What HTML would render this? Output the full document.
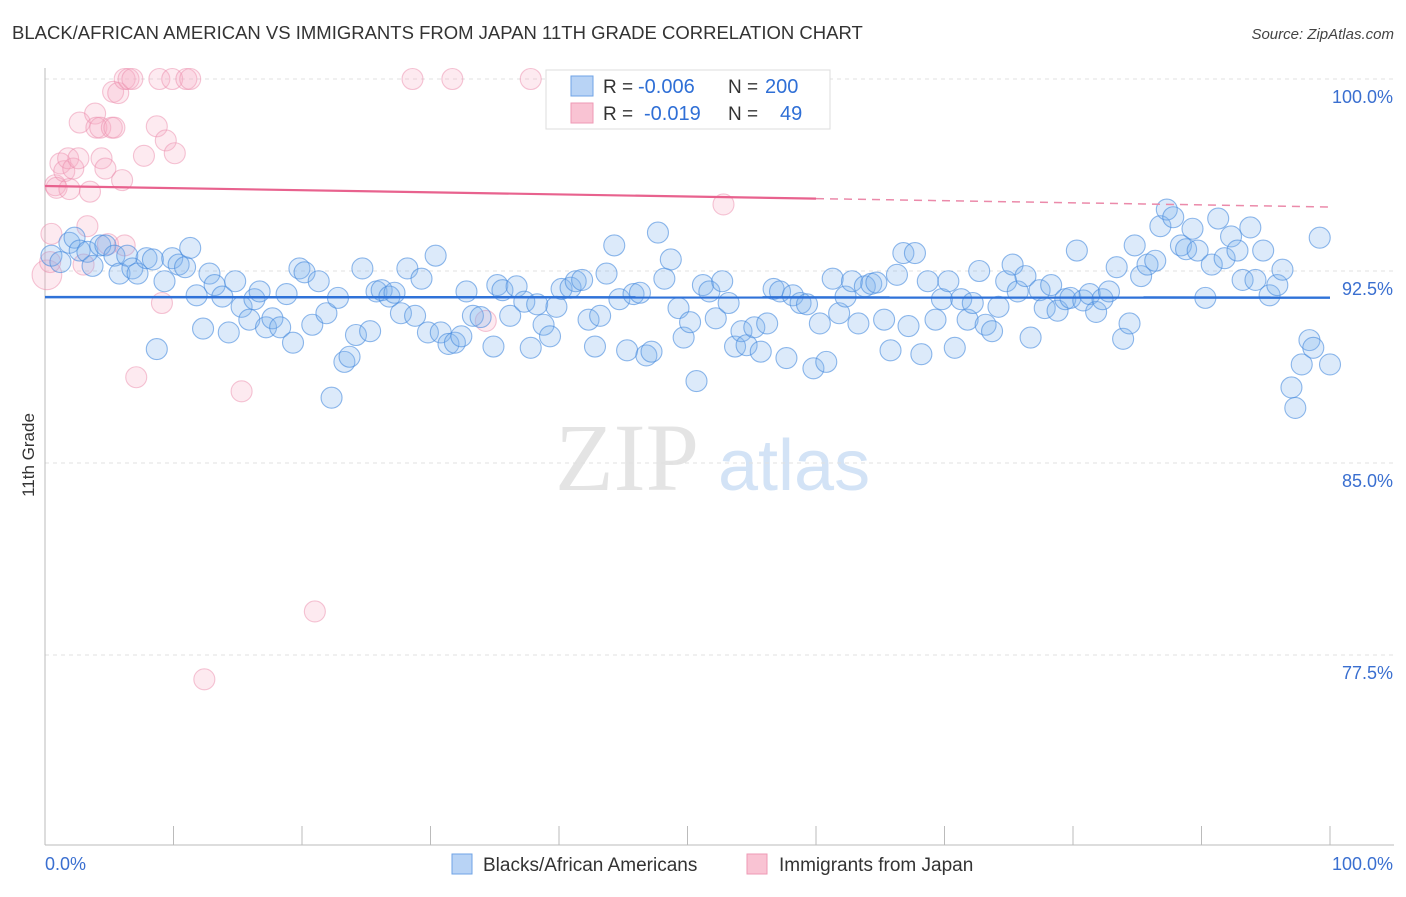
<!DOCTYPE html>
<html><head><meta charset="utf-8"><style>
html,body{margin:0;padding:0;background:#fff;}
body{width:1406px;height:892px;overflow:hidden;font-family:"Liberation Sans",sans-serif;}
</style></head><body>
<svg id="chart" width="1406" height="892" xmlns="http://www.w3.org/2000/svg" font-family="Liberation Sans, sans-serif">
<text x="12" y="39" font-size="18.5" fill="#333">BLACK/AFRICAN AMERICAN VS IMMIGRANTS FROM JAPAN 11TH GRADE CORRELATION CHART</text>
<text x="1394" y="39" font-size="15" fill="#444" font-style="italic" text-anchor="end">Source: ZipAtlas.com</text>
<g>
<text x="555" y="490" font-size="96" font-family="Liberation Serif, serif" fill="#e4e4e4">ZIP</text>
<text x="718" y="490" font-size="72" fill="#d3e3f6">atlas</text>
</g>
<text transform="translate(34,455) rotate(-90)" font-size="17" fill="#333" text-anchor="middle">11th Grade</text>
<g id="grid"></g>
<g id="axes"></g>
<g id="pinkpts"></g>
<g id="bluepts"></g>
<g id="lines"></g>
<g>
<rect x="546" y="70" width="284" height="59" fill="#fff" stroke="#ddd"/>
<rect x="571" y="76" width="22" height="20" fill="#b8d3f5" stroke="#6fa3e6"/>
<rect x="571" y="103" width="22" height="20" fill="#f9c3d3" stroke="#ee9ab5"/>
<text x="603" y="93" font-size="19" fill="#333">R =</text>
<text x="638" y="93" font-size="20" fill="#2f6fd6">-0.006</text>
<text x="728" y="93" font-size="19" fill="#333">N =</text>
<text x="765" y="93" font-size="20" fill="#2f6fd6">200</text>
<text x="603" y="120" font-size="19" fill="#333">R =</text>
<text x="644" y="120" font-size="20" fill="#2f6fd6">-0.019</text>
<text x="728" y="120" font-size="19" fill="#333">N =</text>
<text x="780" y="120" font-size="20" fill="#2f6fd6">49</text>
</g>
<g>
<rect x="452" y="854" width="20" height="20" fill="#b8d3f5" stroke="#6fa3e6"/>
<text x="483" y="871" font-size="19" fill="#333">Blacks/African Americans</text>
<rect x="747" y="854" width="20" height="20" fill="#f9c3d3" stroke="#ee9ab5"/>
<text x="779" y="871" font-size="19" fill="#333">Immigrants from Japan</text>
</g>
</svg>
<script>
const yTicks=[100,92.5,85,77.5];
const yTickLabels=["100.0%","92.5%","85.0%","77.5%"];
const xTickLabels=["0.0%","100.0%"];
const blueX=[0.5,1.2,1.9,2.3,2.7,3.3,3.7,4.3,4.7,5.4,5.8,6.4,6.8,7.2,7.9,8.4,8.7,9.3,9.9,10.4,10.9,11.3,11.8,12.3,12.8,13.2,13.8,14.3,14.8,15.3,15.9,16.3,16.7,17.2,17.7,18.3,18.8,19.3,19.8,20.2,20.8,21.3,21.9,22.3,22.8,23.3,23.7,24.2,24.7,25.3,25.8,26.2,26.8,27.2,27.7,28.2,28.8,29.3,29.8,30.4,30.8,31.4,31.9,32.4,32.8,33.3,33.9,34.9,35.2,35.6,36.2,36.7,37.3,37.8,38.3,38.8,39.3,39.8,40.2,40.9,41.3,41.8,42.3,42.8,43.2,43.7,44.3,44.7,45.3,45.8,46.3,46.8,47.2,47.7,48.2,48.7,49.3,49.7,50.2,50.7,51.2,51.7,52.2,52.7,53.2,53.7,54.2,54.6,55.2,55.7,56.2,56.7,57.2,57.7,58.2,58.8,59.3,59.8,60.3,60.8,61.3,61.8,62.3,62.8,63.3,63.8,64.3,64.7,65.3,65.8,66.3,66.8,67.2,67.7,68.2,68.7,69.3,69.8,70.3,70.8,71.3,71.8,72.2,72.7,73.2,73.7,74.2,74.8,75.3,75.7,76.3,76.7,77.4,77.8,78.3,78.8,79.4,79.8,80.3,80.8,81.3,81.8,82.3,82.8,83.4,83.9,84.4,84.8,85.3,85.8,86.4,86.8,87.3,87.8,88.4,88.8,89.3,89.7,90.3,90.8,91.3,91.8,92.3,92.8,93.2,93.8,94.2,94.8,95.3,95.9,96.3,97.0,97.3,97.8,98.4,98.7,99.2,100.0];
const blueY=[93.1,92.85,93.6,93.8,93.3,93.25,92.7,93.5,93.5,93.1,92.4,93.1,92.6,92.4,93.0,92.95,89.45,92.1,93.0,92.75,92.65,93.4,91.55,90.25,92.4,91.95,91.5,90.1,92.1,91.1,90.6,91.4,91.7,90.3,90.65,90.3,91.6,89.7,92.6,92.45,90.4,92.1,90.85,87.55,91.45,88.95,89.15,90.0,92.6,90.15,91.7,91.75,91.5,91.65,90.85,92.6,90.75,92.2,90.1,93.1,90.1,89.65,89.7,89.95,91.7,90.75,90.7,89.55,91.95,91.75,90.75,91.9,91.3,89.5,91.2,90.4,89.95,91.1,91.8,91.85,92.1,92.15,90.6,89.55,90.75,92.4,93.5,91.4,89.4,91.6,91.65,89.2,89.35,94.0,92.2,92.95,91.05,89.9,90.5,88.2,91.95,91.7,90.65,92.1,91.25,89.55,90.15,89.6,90.3,89.35,90.45,91.8,91.7,89.1,91.55,91.25,91.2,88.7,90.45,88.95,92.2,90.85,91.5,92.1,90.45,91.9,92.0,92.05,90.6,89.4,92.35,93.2,90.35,93.2,89.25,92.1,90.6,91.4,92.1,89.5,91.4,90.6,91.25,92.5,90.4,90.15,91.1,92.1,92.75,91.7,92.3,89.9,91.75,91.05,91.95,90.95,91.4,91.45,93.3,91.35,91.6,90.9,91.4,91.7,92.65,89.85,90.45,93.5,92.3,92.75,92.9,94.25,94.9,94.6,93.5,93.35,94.15,93.3,91.45,92.75,94.55,93.0,93.85,93.3,92.15,94.2,92.15,93.3,91.55,91.95,92.55,87.95,87.15,88.85,89.8,89.5,93.8,88.85];
const pinkX=[0.15,0.4,0.5,0.8,0.9,1.2,1.5,1.8,1.9,2.2,2.6,2.7,3.0,3.3,3.5,3.9,4.0,4.3,4.4,4.7,4.9,5.2,5.3,5.4,5.7,6.0,6.2,6.5,6.8,6.2,7.1,7.7,8.7,8.9,9.1,9.4,9.9,10.1,11.0,11.3,12.4,15.3,21.0,28.6,31.7,34.3,37.8,52.8];
const pinkY=[92.35,92.85,93.95,95.85,95.75,96.7,96.4,96.9,95.7,96.5,96.9,98.3,92.75,94.25,95.6,98.65,98.1,98.1,96.9,96.5,93.55,98.1,99.5,98.1,99.45,96.05,100,100,100,93.5,88.35,97.0,98.15,100,91.25,97.6,100,97.1,100,100,76.55,87.8,79.2,100,100,90.55,100,95.1];
const pinkCount=[2,1,1,1,1,1,1,1,1,1,1,1,1,1,1,1,1,1,1,1,1,1,1,1,1,1,1,1,1,1,1,1,1,1,1,1,1,1,1,1,1,1,1,1,1,1,1,1];
const blueTrend=[91.48,91.46];
const pinkTrend=[95.82,95.0];
const pinkSolidEnd=60;

const NS="http://www.w3.org/2000/svg";
const X0=45,X1=1330,Ytop=79,pxPerUnit=25.6;
const sx=v=>X0+(v/100)*(X1-X0);
const sy=v=>Ytop+(100-v)*pxPerUnit;
function mk(tag,attrs,parent){const e=document.createElementNS(NS,tag);for(const k in attrs)e.setAttribute(k,attrs[k]);parent.appendChild(e);return e;}

const grid=document.getElementById('grid');
yTicks.forEach((t,i)=>{
  const l=mk('line',{x1:45,x2:1394,y1:sy(t),y2:sy(t),stroke:'#e0e0e0','stroke-dasharray':'4,4'},grid);
  
  
  const tx=mk('text',{x:1393,y:sy(t)+24,'font-size':18,fill:'#3a6fd0','text-anchor':'end'},grid);
  tx.textContent=yTickLabels[i];
  
  
});
const axes=document.getElementById('axes');
const ya=mk('line',{x1:45,x2:45,y1:68,y2:845,stroke:'#bbb'},axes);


const xa=mk('line',{x1:45,x2:1394,y1:845,y2:845,stroke:'#bbb'},axes);


for(let i=0;i<=10;i++){
  const t=mk('line',{x1:sx(i*10),x2:sx(i*10),y1:826,y2:845,stroke:'#bbb'},axes);
  
  
}
const xl0=mk('text',{x:45,y:870,'font-size':18,fill:'#3a6fd0'},axes);
xl0.textContent=xTickLabels[0];


const xl1=mk('text',{x:1393,y:870,'font-size':18,fill:'#3a6fd0','text-anchor':'end'},axes);
xl1.textContent=xTickLabels[1];



const pg=document.getElementById('pinkpts');
pinkX.forEach((x,i)=>{
  const c=mk('circle',{cx:sx(x),cy:sy(pinkY[i]),r:10.5*Math.sqrt(pinkCount[i]),fill:'rgba(246,170,196,0.25)',stroke:'rgba(236,140,172,0.5)','stroke-width':1.1},pg);
  
  
});
const bg=document.getElementById('bluepts');
blueX.forEach((x,i)=>{
  const c=mk('circle',{cx:sx(x),cy:sy(blueY[i]),r:10.5,fill:'rgba(130,178,238,0.28)',stroke:'rgba(70,138,222,0.6)','stroke-width':1.1},bg);
  
  
});
const lg=document.getElementById('lines');
const bl=mk('line',{x1:sx(0),y1:sy(blueTrend[0]),x2:sx(100),y2:sy(blueTrend[1]),stroke:'#2f72d8','stroke-width':2.5},lg);


const py=x=>pinkTrend[0]+(pinkTrend[1]-pinkTrend[0])*x/100;
const pl=mk('line',{x1:sx(0),y1:sy(py(0)),x2:sx(pinkSolidEnd),y2:sy(py(pinkSolidEnd)),stroke:'#e8628e','stroke-width':2.2},lg);


const pd=mk('line',{x1:sx(pinkSolidEnd),y1:sy(py(pinkSolidEnd)),x2:sx(100),y2:sy(py(100)),stroke:'#eb8aaa','stroke-width':1.5,'stroke-dasharray':'8,6'},lg);


</script>
</body></html>
